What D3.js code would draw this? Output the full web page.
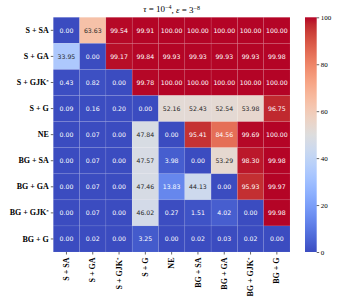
<!DOCTYPE html>
<html>
<head>
<meta charset="utf-8">
<script src="https://cdn.jsdelivr.net/npm/d3@7"></script>
<style>
  body { margin: 0; background: #fff; }
  svg { display: block; }
</style>
</head>
<body>
<div id="chart"></div>
<script>
// method labels, rows top→bottom and columns left→right
const labels = ['S + SA', 'S + GA', 'S + GJK*', 'S + G', 'NE', 'BG + SA', 'BG + GA', 'BG + GJK*', 'BG + G'];

const rowSSA   = [0.00, 63.63, 99.54, 99.91, 100.00, 100.00, 100.00, 100.00, 100.00];
const rowSGA   = [33.95, 0.00, 99.17, 99.84, 99.93, 99.93, 99.93, 99.93, 99.98];
const rowSGJK  = [0.43, 0.82, 0.00, 99.78, 100.00, 100.00, 100.00, 100.00, 100.00];
const rowSG    = [0.09, 0.16, 0.20, 0.00, 52.16, 52.43, 52.54, 53.98, 96.75];
const rowNE    = [0.00, 0.07, 0.00, 47.84, 0.00, 95.41, 84.56, 99.69, 100.00];
const rowBGSA  = [0.00, 0.07, 0.00, 47.57, 3.98, 0.00, 53.29, 98.30, 99.98];
const rowBGGA  = [0.00, 0.07, 0.00, 47.46, 13.83, 44.13, 0.00, 95.93, 99.97];
const rowBGGJK = [0.00, 0.07, 0.00, 46.02, 0.27, 1.51, 4.02, 0.00, 99.98];
const rowBGG   = [0.00, 0.02, 0.00, 3.25, 0.00, 0.02, 0.03, 0.02, 0.00];
const rows = [rowSSA, rowSGA, rowSGJK, rowSG, rowNE, rowBGSA, rowBGGA, rowBGGJK, rowBGG];

const cbarTicks = [0, 20, 40, 60, 80, 100];

// matplotlib coolwarm anchor colours (Moreland)
const coolwarm = [
  [59,76,192],[68,90,204],[77,104,215],[87,117,225],[98,130,234],[108,142,241],
  [119,154,247],[130,165,251],[141,176,254],[152,185,255],[163,194,255],[174,201,253],
  [184,208,249],[194,213,244],[204,217,238],[213,219,230],[221,221,221],[229,216,209],
  [236,211,197],[241,204,185],[245,196,173],[247,187,160],[247,177,148],[247,166,135],
  [244,154,123],[241,141,111],[236,127,99],[229,112,88],[222,96,77],[213,80,66],
  [203,62,56],[192,40,47],[180,4,38]
].map(c => d3.rgb(c[0], c[1], c[2]).formatHex());
const interp = d3.piecewise(d3.interpolateRgb, coolwarm);
const color = d3.scaleSequential(interp).domain([0, 100]);

const W = 357, H = 306;
const mLeft = 53.3, mRight = 290, mTop = 17.3, mBottom = 252;

const svg = d3.select('#chart').append('svg')
  .attr('width', W).attr('height', H);

const x = d3.scaleBand().domain(d3.range(9)).range([mLeft, mRight]);
const y = d3.scaleBand().domain(d3.range(9)).range([mTop, mBottom]);

const cells = [];
rows.forEach((r, i) => r.forEach((v, j) => cells.push({i, j, v})));

const g = svg.append('g');
g.selectAll('rect').data(cells).join('rect')
  .attr('x', d => x(d.j))
  .attr('y', d => y(d.i))
  .attr('width', x.bandwidth())
  .attr('height', y.bandwidth())
  .attr('fill', d => color(d.v))
  .attr('stroke', 'rgba(255,255,255,0.12)')
  .attr('stroke-width', 0.6);

const lum = c => {
  const rgb = d3.rgb(c);
  const f = u => { u /= 255; return u <= 0.03928 ? u / 12.92 : Math.pow((u + 0.055) / 1.055, 2.4); };
  return 0.2126 * f(rgb.r) + 0.7152 * f(rgb.g) + 0.0722 * f(rgb.b);
};

g.selectAll('text').data(cells).join('text')
  .attr('x', d => x(d.j) + x.bandwidth() / 2)
  .attr('y', d => y(d.i) + y.bandwidth() / 2)
  .attr('dy', '0.35em')
  .attr('text-anchor', 'middle')
  .style('font', '6.2px "DejaVu Sans", sans-serif')
  .attr('fill', d => lum(color(d.v)) > 0.408 ? '#262626' : '#fff')
  .text(d => d.v.toFixed(2));

// label with superscript star
function labelText(sel) {
  sel.each(function(d) {
    const t = d3.select(this);
    const txt = labels[d];
    if (txt.endsWith('*')) {
      t.append('tspan').text(txt.slice(0, -1));
      t.append('tspan').attr('dy', '-0.4em').style('font-size', '5px').text('*');
    } else {
      t.text(txt);
    }
  });
}

const labelFont = 'bold 8px "Liberation Serif", serif';

// y axis
const yAx = svg.append('g').attr('transform', `translate(${mLeft},0)`)
  .call(d3.axisLeft(y).tickSize(2.5).tickPadding(2).tickFormat(''));
yAx.select('.domain').remove();
yAx.selectAll('.tick line').attr('stroke', '#000').attr('stroke-width', 0.6);
yAx.selectAll('.tick text').remove();
yAx.selectAll('.tick').append('text')
  .attr('x', -4.5).attr('dy', '0.32em')
  .attr('text-anchor', 'end').attr('fill', '#000')
  .style('font', labelFont)
  .call(labelText);

// x axis
const xAx = svg.append('g').attr('transform', `translate(0,${mBottom})`)
  .call(d3.axisBottom(x).tickSize(2.5).tickFormat(''));
xAx.select('.domain').remove();
xAx.selectAll('.tick line').attr('stroke', '#000').attr('stroke-width', 0.6);
xAx.selectAll('.tick text').remove();
xAx.selectAll('.tick').append('text')
  .attr('transform', 'translate(0,5.5) rotate(-90)')
  .attr('dy', '0.32em')
  .attr('text-anchor', 'end').attr('fill', '#000')
  .style('font', labelFont)
  .call(labelText);

// colorbar
const cbL = 305, cbR = 316.7;
const cy = d3.scaleLinear().domain([0, 100]).range([mBottom, mTop]);
const grad = svg.append('defs').append('linearGradient')
  .attr('id', 'cbar').attr('x1', 0).attr('y1', 1).attr('x2', 0).attr('y2', 0);
d3.range(0, 1.0001, 1 / 32).forEach(t => {
  grad.append('stop').attr('offset', t).attr('stop-color', interp(t));
});
svg.append('rect')
  .attr('x', cbL).attr('y', mTop)
  .attr('width', cbR - cbL).attr('height', mBottom - mTop)
  .attr('fill', 'url(#cbar)');

const cAx = svg.append('g').attr('transform', `translate(${cbR},0)`)
  .call(d3.axisRight(cy).tickValues(cbarTicks).tickSize(2.5).tickPadding(1.5));
cAx.select('.domain').remove();
cAx.selectAll('.tick line').attr('stroke', '#000').attr('stroke-width', 0.6);
cAx.selectAll('.tick text').attr('fill', '#000')
  .style('font', '7px "Liberation Serif", serif');

// title
const title = svg.append('text')
  .attr('x', (mLeft + mRight) / 2).attr('y', 11.5)
  .attr('text-anchor', 'middle')
  .style('font', '9px "Liberation Serif", serif');
title.append('tspan').style('font-style', 'italic').text('τ');
title.append('tspan').text(' = 10');
title.append('tspan').attr('dy', '-0.45em').style('font-size', '6px').text('−4');
title.append('tspan').attr('dy', '0.45em').text(', ');
title.append('tspan').style('font-style', 'italic').text('ε');
title.append('tspan').text(' = 3');
title.append('tspan').attr('dy', '-0.45em').style('font-size', '6px').text('−8');
</script>
</body>
</html>
